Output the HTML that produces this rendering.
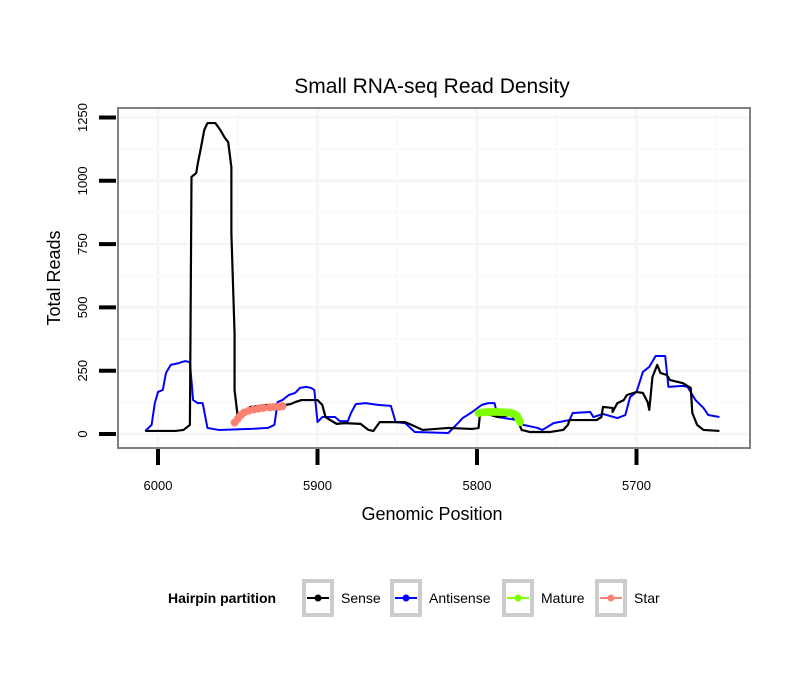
<!DOCTYPE html>
<html><head><meta charset="utf-8"><style>
body{margin:0;background:#fff;}
svg text{font-family:"Liberation Sans",sans-serif;}
</style></head><body>
<svg width="810" height="690" xmlns="http://www.w3.org/2000/svg">
<rect width="810" height="690" fill="#fff"/>
<text x="432" y="93" font-size="21" text-anchor="middle">Small RNA-seq Read Density</text>
<g id="grid"></g>
<g id="series"></g>
<rect x="118" y="108" width="632" height="340" fill="none" stroke="#808080" stroke-width="2"/>
<g id="axes"></g>
<text x="432" y="520" font-size="18" text-anchor="middle">Genomic Position</text>
<text transform="translate(60,278) rotate(-90)" font-size="18" text-anchor="middle">Total Reads</text>
<g>
<text x="168" y="603" font-size="14" font-weight="bold">Hairpin partition</text>
<g><rect x="304" y="581" width="28" height="34" fill="#fff" stroke="#ccc" stroke-width="4"/><line x1="307" y1="598" x2="329" y2="598" stroke="#000" stroke-width="2"/><circle cx="318" cy="598" r="3.5" fill="#000"/><text x="341" y="603" font-size="14">Sense</text></g>
<g><rect x="392" y="581" width="28" height="34" fill="#fff" stroke="#ccc" stroke-width="4"/><line x1="395" y1="598" x2="417" y2="598" stroke="#00f" stroke-width="2"/><circle cx="406" cy="598" r="3.5" fill="#00f"/><text x="429" y="603" font-size="14">Antisense</text></g>
<g><rect x="504" y="581" width="28" height="34" fill="#fff" stroke="#ccc" stroke-width="4"/><line x1="507" y1="598" x2="529" y2="598" stroke="#7fff00" stroke-width="2"/><circle cx="518" cy="598" r="3.5" fill="#7fff00"/><text x="541" y="603" font-size="14">Mature</text></g>
<g><rect x="597" y="581" width="28" height="34" fill="#fff" stroke="#ccc" stroke-width="4"/><line x1="600" y1="598" x2="622" y2="598" stroke="#fa8072" stroke-width="2"/><circle cx="611" cy="598" r="3.5" fill="#fa8072"/><text x="634" y="603" font-size="14">Star</text></g>
</g>
</svg>
<script>
const xTicks=[6000,5900,5800,5700];
const yTicks=[0,250,500,750,1000,1250];
const senseX=[6008,5989,5984,5980,5979,5976,5975,5973,5971,5969,5964,5961,5958,5956,5954,5954,5952,5952,5950,5947,5942,5931,5923,5920,5917,5914,5910,5900,5897,5895,5892,5888,5883,5873,5868,5865,5861,5845,5841,5834,5818,5803,5799,5798,5787,5779,5774,5772,5767,5754,5746,5743,5742,5725,5722,5721,5715,5715,5712,5708,5706,5700,5696,5693,5692,5690,5687,5685,5681,5679,5671,5666,5665,5662,5658,5648];
const senseY=[12,12,16,36,1015,1031,1070,1133,1201,1228,1228,1201,1169,1153,1054,794,399,174,67,87,107,115,103,115,118,126,134,134,115,67,55,40,43,40,16,12,47,47,36,16,24,20,24,87,67,75,47,16,8,8,16,36,55,55,67,107,103,87,122,134,154,166,162,126,95,225,273,241,233,213,201,182,83,36,16,12];
const antiX=[6008,6004,6002,6000,5997,5995,5992,5987,5983,5980,5978,5975,5972,5969,5962,5942,5931,5927,5925,5922,5918,5914,5911,5907,5904,5902,5900,5897,5889,5886,5881,5879,5876,5870,5862,5854,5851,5845,5839,5818,5813,5809,5803,5797,5793,5789,5787,5775,5771,5762,5759,5752,5742,5740,5729,5727,5721,5712,5707,5704,5700,5696,5692,5688,5682,5680,5671,5668,5663,5658,5655,5648];
const antiY=[12,36,122,166,174,241,273,280,288,284,134,122,122,24,16,20,24,36,126,134,154,162,182,186,182,174,47,67,67,51,51,83,118,122,115,111,47,43,8,4,36,63,87,115,122,122,67,55,36,24,16,43,55,83,87,67,79,63,75,146,166,245,265,308,308,186,190,186,134,103,75,67];
const matureX=[5799,5797,5795,5793,5791,5789,5787,5785,5783,5781,5779,5777,5775,5774,5773];
const matureY=[83,85,86,87,87,87,87,86,86,85,84,80,72,60,47];
const starX=[5952,5950,5948,5946,5943,5940,5937,5934,5930,5927,5924,5922];
const starY=[45,60,75,85,92,97,100,103,105,107,108,110];

const NS="http://www.w3.org/2000/svg";
const xs=v=>158+(6000-v)*1.595;
const ys=v=>434-v*0.2532;
function mk(tag,attrs,parent){const e=document.createElementNS(NS,tag);for(const k in attrs)e.setAttribute(k,attrs[k]);parent.appendChild(e);return e;}
const grid=document.getElementById('grid'),axes=document.getElementById('axes'),ser=document.getElementById('series');
mk('rect',{x:118,y:108,width:632,height:340,fill:'#fff'},grid);
const inX=x=>x>119&&x<749, inY=y=>y>109&&y<447;
xTicks.forEach((t,i)=>{
  const mid=t-50;
  const g=mk('line',{x1:xs(t),x2:xs(t),y1:108,y2:448,stroke:'#f5f5f5','stroke-width':2.5},grid);
  
  
  if(inX(xs(mid))){
  const g2=mk('line',{x1:xs(mid),x2:xs(mid),y1:108,y2:448,stroke:'#fafafa','stroke-width':2},grid);
  
  
  }
  const tk=mk('line',{x1:xs(t),x2:xs(t),y1:449,y2:465,stroke:'#000','stroke-width':4},axes);
  
  
  const lb=mk('text',{x:xs(t),y:490,'font-size':13,'text-anchor':'middle'},axes);
  lb.textContent=t;
  
  
});
yTicks.forEach(t=>{
  const g=mk('line',{x1:118,x2:750,y1:ys(t),y2:ys(t),stroke:'#f5f5f5','stroke-width':2.5},grid);
  
  
  if(inY(ys(t+125))){
  const g2=mk('line',{x1:118,x2:750,y1:ys(t+125),y2:ys(t+125),stroke:'#fafafa','stroke-width':2},grid);
  
  
  }
  const tk=mk('line',{x1:99,x2:116,y1:ys(t),y2:ys(t),stroke:'#000','stroke-width':4},axes);
  
  
  const lb=mk('text',{transform:`translate(87,${ys(t)}) rotate(-90)`,'font-size':13,'text-anchor':'middle'},axes);
  lb.textContent=t;
  
  
});
function line(X,Y,color,w,name){
  const p=mk('polyline',{points:X.map((x,i)=>xs(x)+','+ys(Y[i])).join(' '),fill:'none',stroke:color,'stroke-width':w,'stroke-linejoin':'round'},ser);
  
  
}
line(antiX,antiY,'#00f',2,'antisense-line');
line(senseX,senseY,'#000',2.2,'sense-line');
function pts(X,Y,color,name){
  line(X,Y,color,6,name+'-line');
  X.forEach((x,i)=>{
    const c=mk('circle',{cx:xs(x),cy:ys(Y[i]),r:4,fill:color},ser);
    
    
  });
}
pts(matureX,matureY,'#7fff00','mature');
pts(starX,starY,'#fa8072','star');
</script>
</body></html>
